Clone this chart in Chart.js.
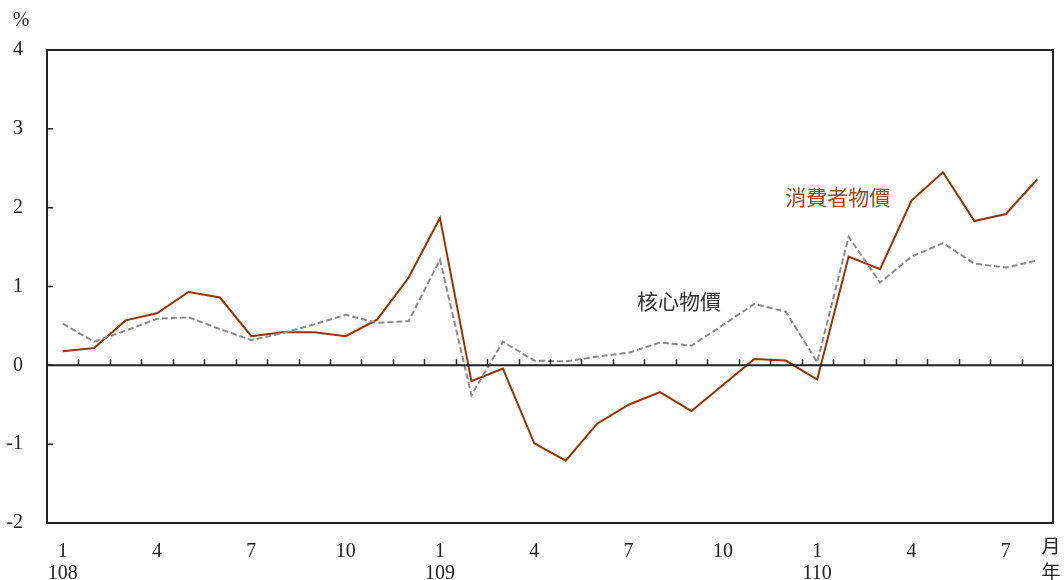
<!DOCTYPE html>
<html>
<head>
<meta charset="utf-8">
<script src="https://cdn.jsdelivr.net/npm/chart.js@4"></script>
<style>
  html, body { margin: 0; padding: 0; background: #fff; }
  #wrap { width: 1064px; height: 580px; position: relative; }
</style>
</head>
<body>
<div id="wrap"><canvas id="chart"></canvas></div>
<script>
// === Data ===
const months = [1,2,3,4,5,6,7,8,9,10,11,12, 1,2,3,4,5,6,7,8,9,10,11,12, 1,2,3,4,5,6,7,8];
const years = { 0: '108', 12: '109', 24: '110' };
const shownMonths = [1, 4, 7, 10];

const cpi = [0.18, 0.22, 0.57, 0.66, 0.93, 0.86, 0.37, 0.42, 0.42, 0.37, 0.58, 1.11,
             1.87, -0.20, -0.04, -0.99, -1.21, -0.74, -0.50, -0.34, -0.58, -0.25, 0.08, 0.06,
             -0.18, 1.38, 1.22, 2.09, 2.45, 1.83, 1.92, 2.36];
const core = [0.53, 0.30, 0.44, 0.59, 0.61, 0.46, 0.32, 0.41, 0.52, 0.64, 0.54, 0.56,
              1.34, -0.38, 0.30, 0.06, 0.05, 0.11, 0.16, 0.29, 0.25, 0.51, 0.78, 0.68,
              0.04, 1.63, 1.05, 1.38, 1.55, 1.29, 1.24, 1.33];

const SERIF = '"Liberation Serif", "Times New Roman", serif';
const CJK = '"Noto Sans CJK TC", "Noto Sans CJK SC", sans-serif';

// frame, zero line with month ticks, text labels
const decorPlugin = {
    id: 'decor',
    afterDatasetsDraw(chart) {
        const { ctx, chartArea: a, scales: { x, y } } = chart;
        ctx.save();
        ctx.strokeStyle = '#222';
        ctx.lineWidth = 2;
        ctx.strokeRect(a.left, a.top, a.right - a.left, a.bottom - a.top);

        // zero line
        const y0 = y.getPixelForValue(0);
        ctx.beginPath();
        ctx.moveTo(a.left, y0);
        ctx.lineTo(a.right, y0);
        ctx.stroke();

        // ticks between months
        ctx.lineWidth = 1.5;
        const step = (a.right - a.left) / months.length;
        ctx.beginPath();
        for (let i = 1; i < months.length; i++) {
            const px = Math.round(a.left + i * step) + 0.5;
            ctx.moveTo(px, y0);
            ctx.lineTo(px, y0 - 6);
        }
        // left axis ticks
        for (let v = -2; v <= 4; v++) {
            const py = y.getPixelForValue(v);
            ctx.moveTo(a.left, py);
            ctx.lineTo(a.left + 6, py);
        }
        ctx.stroke();

        // series labels
        ctx.font = '21px ' + CJK;
        ctx.textAlign = 'center';
        ctx.textBaseline = 'middle';
        ctx.fillStyle = '#a0441a';
        ctx.fillText('消費者物價', x.getPixelForValue(24.65), y.getPixelForValue(2.14));
        ctx.fillStyle = '#333';
        ctx.fillText('核心物價', x.getPixelForValue(19.6), y.getPixelForValue(0.81));

        // units
        ctx.fillStyle = '#222';
        ctx.font = '20px ' + SERIF;
        ctx.fillText('%', 21, 21);
        ctx.font = '19px ' + CJK;
        ctx.fillText('月', a.right - 2, 546);
        ctx.fillText('年', a.right - 2, 572);
        ctx.restore();
    }
};

new Chart(document.getElementById('chart'), {
    type: 'line',
    data: {
        labels: months.map((m, i) => i),
        datasets: [
            { label: '核心物價', data: core, borderColor: '#8a8a8a', borderWidth: 2, borderDash: [6, 3], pointRadius: 0, tension: 0, fill: false },
            { label: '消費者物價', data: cpi, borderColor: '#993300', borderWidth: 2, pointRadius: 0, tension: 0, fill: false }
        ]
    },
    options: {
        responsive: true,
        maintainAspectRatio: false,
        animation: false,
        layout: { padding: { top: 50, right: 11, left: 0, bottom: 0 } },
        plugins: { legend: { display: false }, tooltip: { enabled: false } },
        scales: {
            x: {
                type: 'category',
                offset: true,
                grid: { display: false, drawTicks: false },
                border: { display: false },
                afterFit: (s) => { s.height = 57; },
                ticks: {
                    autoSkip: false,
                    maxRotation: 0,
                    padding: 18,
                    color: '#222',
                    font: { family: SERIF, size: 20, lineHeight: 1.1 },
                    callback: (val, i) => {
                        const m = months[i];
                        if (!shownMonths.includes(m)) return '';
                        return years[i] ? [String(m), years[i]] : String(m);
                    }
                }
            },
            y: {
                min: -2,
                max: 4,
                grid: { display: false, drawTicks: false },
                border: { display: false },
                afterFit: (s) => { s.width = 47; },
                ticks: {
                    stepSize: 1,
                    padding: 24,
                    color: '#222',
                    font: { family: SERIF, size: 20 }
                }
            }
        }
    },
    plugins: [decorPlugin]
});
</script>
</body>
</html>
